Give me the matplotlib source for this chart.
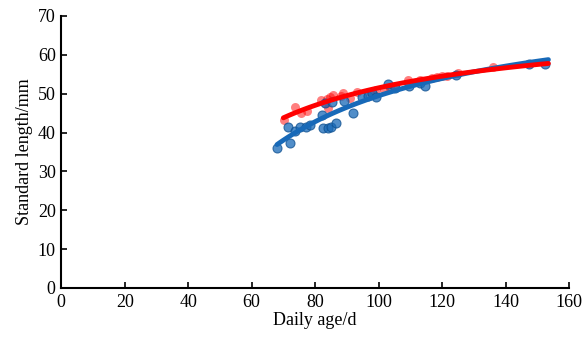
import matplotlib
matplotlib.use('Agg')
import matplotlib.pyplot as plt
import numpy as np

plt.rcParams['font.family'] = ['Liberation Serif', 'DejaVu Serif']

# blue group (daily age, standard length)
blue_age = [68.0, 71.5, 72.0, 73.7, 75.3, 77.2, 78.4, 82.2, 82.5, 83.2, 84.0,
            85.0, 85.4, 86.6, 89.0, 92.0, 94.8, 96.7, 98.0, 99.2, 103.0,
            105.2, 109.6, 113.0, 114.6, 124.4, 147.4, 152.5]
blue_len = [36.0, 41.4, 37.3, 40.4, 41.4, 41.4, 41.9, 44.5, 41.2, 47.6, 41.2,
            41.4, 47.9, 42.5, 48.1, 45.0, 49.1, 49.4, 50.2, 49.1, 52.5,
            51.5, 52.0, 52.8, 52.0, 54.8, 57.6, 57.6]

# red group
red_age = [70.2, 73.7, 75.6, 77.5, 81.9, 83.1, 83.8, 84.7, 85.7, 84.0, 88.0,
           88.8, 91.0, 93.2, 97.3, 99.2, 101.7, 103.6, 105.2, 109.3, 113.0,
           116.9, 118.4, 120.0, 121.6, 125.0, 136.0]
red_len = [43.2, 46.6, 45.0, 45.5, 48.4, 47.6, 48.6, 49.1, 49.7, 46.3, 49.4,
           50.2, 48.9, 50.4, 50.4, 51.0, 51.2, 51.5, 52.0, 53.5, 53.5,
           54.0, 54.3, 54.6, 54.6, 55.3, 56.9]

xticks = [0, 20, 40, 60, 80, 100, 120, 140, 160]
yticks = [0, 10, 20, 30, 40, 50, 60, 70]

blue_c = '#1769b8'
red_c = '#ff0000'

fig = plt.figure(figsize=(5.83, 3.40), dpi=100)
ax = fig.add_axes([0.105, 0.153, 0.871, 0.8])

ax.scatter(red_age, red_len, s=42, color=red_c, alpha=0.5, linewidths=0, zorder=2)
ax.scatter(blue_age, blue_len, s=42, color=blue_c, alpha=0.75,
           edgecolors='#0d4f8f', linewidths=0.8, zorder=3)

# trend lines of the form L = a + b / age, fitted to each group
for age, ln, c, x0, z in [(blue_age, blue_len, blue_c, 68.0, 4),
                          (red_age, red_len, red_c, 70.0, 5)]:
    b, a = np.polyfit(1.0 / np.array(age), ln, 1)
    xf = np.linspace(x0, 153.5, 100)
    ax.plot(xf, a + b / xf, color=c, lw=3.5, zorder=z,
            solid_capstyle='round')

ax.set_xlim(0, 160)
ax.set_ylim(0, 70)
ax.set_xticks(xticks)
ax.set_yticks(yticks)
ax.tick_params(direction='in', length=4, width=1.2, labelsize=13, pad=4)
ax.spines['top'].set_visible(False)
ax.spines['right'].set_visible(False)
ax.spines['left'].set_linewidth(1.5)
ax.spines['bottom'].set_linewidth(1.5)
ax.set_xlabel('Daily age/d', fontsize=13, labelpad=1)
ax.set_ylabel('Standard length/mm', fontsize=13, labelpad=3)

fig.savefig('out.png', dpi=100)
